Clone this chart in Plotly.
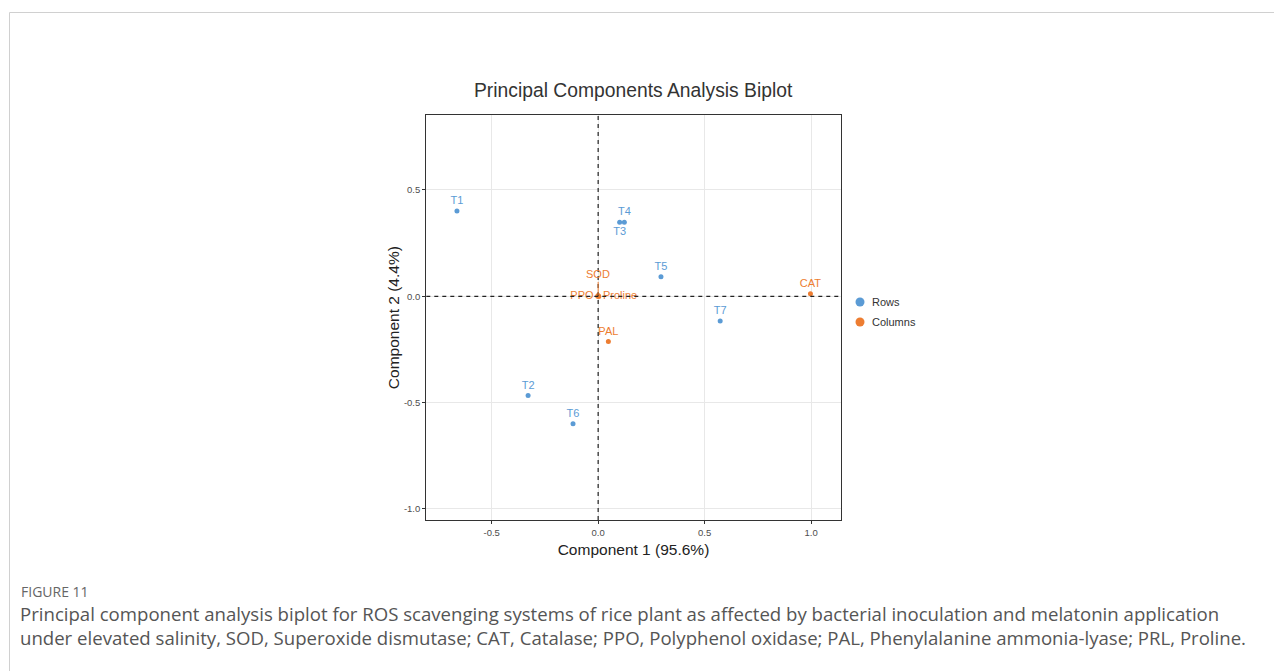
import plotly.graph_objects as go

# ---- data ----
row_labels = ["T1", "T2", "T3", "T4", "T5", "T6", "T7"]
row_pc1 = [-0.663, -0.329, 0.101, 0.123, 0.295, -0.118, 0.573]
row_pc2 = [0.401, -0.467, 0.348, 0.348, 0.092, -0.599, -0.116]

col_labels = ["SOD", "CAT", "PPO", "PAL", "Proline"]
col_pc1 = [0.0, 0.997, -0.002, 0.048, 0.003]
col_pc2 = [0.004, 0.012, 0.0, -0.213, -0.001]

x_ticks = [-0.5, 0.0, 0.5, 1.0]
y_ticks = [-1.0, -0.5, 0.0, 0.5]

legend_names = ["Rows", "Columns"]

title = "Principal Components Analysis Biplot"
x_title = "Component 1 (95.6%)"
y_title = "Component 2 (4.4%)"
fig_label = "FIGURE 11"
caption_1 = ("Principal component analysis biplot for ROS scavenging systems of rice plant "
             "as affected by bacterial inoculation and melatonin application")
caption_2 = ("under elevated salinity, SOD, Superoxide dismutase; CAT, Catalase; PPO, "
             "Polyphenol oxidase; PAL, Phenylalanine ammonia-lyase; PRL, Proline.")

# ---- style ----
BLUE = "#5b9bd5"
ORANGE = "#ed7d31"
FONT = "Liberation Sans, Arial, sans-serif"
CAP_FONT = "Open Sans, Noto Sans, sans-serif"
OFF = 8  # page body margin
W, H = 1282 - OFF, 671 - OFF


def px(x):
    return (x - OFF) / W


def py(y):
    return 1 - (y - OFF) / H


row_pos = {"T3": "bottom center"}
col_pos = {"PPO": "middle left", "Proline": "middle right", "CAT": "top center", "PAL": "top center"}
col_arrow = {"SOD": (0, -21)}

fig = go.Figure()

fig.add_trace(go.Scatter(
    x=row_pc1, y=row_pc2, mode="markers+text", text=row_labels, name=legend_names[0],
    textposition=[row_pos.get(l, "top center") for l in row_labels],
    textfont=dict(family=FONT, size=11, color=BLUE),
    marker=dict(color=BLUE, size=5), showlegend=False, cliponaxis=False))

fig.add_trace(go.Scatter(
    x=col_pc1, y=col_pc2, mode="markers+text", name=legend_names[1],
    text=["" if l in col_arrow else l for l in col_labels],
    textposition=[col_pos.get(l, "top center") for l in col_labels],
    textfont=dict(family=FONT, size=11, color=ORANGE),
    marker=dict(color=ORANGE, size=5), showlegend=False, cliponaxis=False))

for l, xv, yv in zip(col_labels, col_pc1, col_pc2):
    if l in col_arrow:
        ax, ay = col_arrow[l]
        fig.add_annotation(x=xv, y=yv, xref="x", yref="y", text=l, showarrow=True,
                           ax=ax, ay=ay, arrowhead=0, arrowwidth=1, arrowcolor=ORANGE,
                           standoff=0, font=dict(family=FONT, size=11, color=ORANGE))

# dashed reference lines
dash_line = dict(color="#222222", width=1.2, dash="4px,4px")
fig.add_shape(type="line", xref="x", yref="y domain", x0=0, x1=0, y0=0, y1=1, line=dash_line)
fig.add_shape(type="line", xref="x domain", yref="y", x0=0, x1=1, y0=0, y1=0, line=dash_line)

# figure border (top and left)
border = dict(color="#d0d0d0", width=1)
fig.add_shape(type="line", xref="paper", yref="paper", x0=px(9.5), x1=1, y0=py(12.5), y1=py(12.5), line=border)
fig.add_shape(type="line", xref="paper", yref="paper", x0=px(9.5), x1=px(9.5), y0=0, y1=py(12.5), line=border)

# legend (drawn manually for ggplot-like compact spacing)
for i, (name, col) in enumerate(zip(legend_names, [BLUE, ORANGE])):
    cy = 302 + 20 * i
    fig.add_shape(type="circle", xref="paper", yref="paper", xsizemode="pixel", ysizemode="pixel",
                  xanchor=px(860), yanchor=py(cy), x0=-4.5, x1=4.5, y0=-4.5, y1=4.5,
                  fillcolor=col, line=dict(width=0))
    fig.add_annotation(xref="paper", yref="paper", x=px(870), y=py(cy), text=name,
                       showarrow=False, xanchor="left", yanchor="middle",
                       font=dict(family=FONT, size=11, color="#333333"))

axis_common = dict(showline=True, linecolor="#333333", linewidth=1.3, mirror=True,
                   showgrid=True, gridcolor="#e8e8e8", gridwidth=1, zeroline=False,
                   ticks="outside", ticklen=3, tickcolor="#333333", tickwidth=1,
                   tickfont=dict(family=FONT, size=9.5, color="#4d4d4d"))

fig.update_layout(
    width=W, height=H, margin=dict(l=0, r=0, t=0, b=0),
    paper_bgcolor="white", plot_bgcolor="white",
    xaxis=dict(domain=[px(426.3), px(840.7)], range=[-0.807, 1.139],
               tickvals=x_ticks, ticktext=[f"{v:.1f}" for v in x_ticks],
               title=dict(text=x_title, font=dict(family=FONT, size=15.5, color="#222222"), standoff=7),
               **axis_common),
    yaxis=dict(domain=[py(520), py(115.3)], range=[-1.052, 0.851],
               tickvals=y_ticks, ticktext=[f"{v:.1f}" for v in y_ticks],
               title=dict(text=y_title, font=dict(family=FONT, size=15.5, color="#222222"), standoff=0),
               **axis_common),
    showlegend=False,
)

fig.add_annotation(xref="paper", yref="paper", x=px(633.5), y=py(90), text=title,
                   showarrow=False, xanchor="center", yanchor="middle",
                   font=dict(family=FONT, size=19.3, color="#333333"))

fig.add_annotation(xref="paper", yref="paper", x=px(19), y=py(591), text=fig_label,
                   showarrow=False, xanchor="left", yanchor="middle",
                   font=dict(family=CAP_FONT, size=14, color="#666666"))
fig.add_annotation(xref="paper", yref="paper", x=px(18), y=py(613), text=caption_1,
                   showarrow=False, xanchor="left", yanchor="middle",
                   font=dict(family=CAP_FONT, size=18.6, color="#555555"))
fig.add_annotation(xref="paper", yref="paper", x=px(18), y=py(637), text=caption_2,
                   showarrow=False, xanchor="left", yanchor="middle",
                   font=dict(family=CAP_FONT, size=18.6, color="#555555"))

fig.write_html("out.html")
